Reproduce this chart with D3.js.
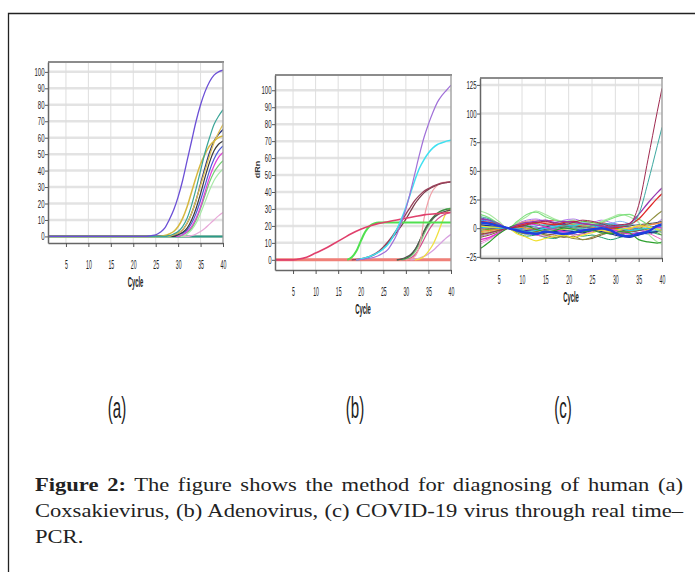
<!DOCTYPE html>
<html>
<head>
<meta charset="utf-8">
<script src="https://cdn.jsdelivr.net/npm/d3@7"></script>
<style>
  body { margin: 0; background: #fff; }
  svg { display: block; }
</style>
</head>
<body>
<svg id="fig" width="695" height="572"></svg>
<script>
// ---- data ----
const xTicks = [5, 10, 15, 20, 25, 30, 35, 40];
const yTicksAB = [0, 10, 20, 30, 40, 50, 60, 70, 80, 90, 100];
const yTicksC = [-25, 0, 25, 50, 75, 100, 125];
const panelLabels = ["(a)", "(b)", "(c)"];

// (a) Coxsakievirus, [cycle, value]
const seriesA = [
  { color: "#b8a85a", w: 1.5, pts: [[1, 0], [40, 0]] },
  { color: "#2a9a8a", w: 2, pts: [[1, 0], [40, 0]] },
  { color: "#e8a8d8", w: 1.2, pts: [[1, 0], [32, 0], [33, 0.5], [34, 1.5], [35, 3], [36, 5], [37, 7.5], [38, 10], [39, 12.5], [40, 14.5]] },
  { color: "#a8e8a8", w: 1.2, pts: [[1, 0], [31, 0], [32, 1.5], [33, 4], [34, 8], [35, 14], [36, 21], [37, 28], [38, 34], [39, 38], [40, 41]] },
  { color: "#70d070", w: 1.2, pts: [[1, 0], [30, 0], [31, 1], [32, 2.5], [33, 5], [34, 10], [35, 17], [36, 25], [37, 33], [38, 39], [39, 43], [40, 46]] },
  { color: "#e040d8", w: 1.2, pts: [[1, 0], [30, 0], [31, 1], [32, 3], [33, 6], [34, 11], [35, 18], [36, 27], [37, 36], [38, 43], [39, 48], [40, 51]] },
  { color: "#4a5ad8", w: 1.2, pts: [[1, 0], [29, 0], [30, 1], [31, 2], [32, 4], [33, 8], [34, 14], [35, 22], [36, 31], [37, 40], [38, 47], [39, 52], [40, 55]] },
  { color: "#3a3a3a", w: 1.2, pts: [[1, 0], [29, 0], [30, 1], [31, 2.5], [32, 5], [33, 10], [34, 17], [35, 26], [36, 36], [37, 45], [38, 52], [39, 56], [40, 58]] },
  { color: "#2b3580", w: 1.3, pts: [[1, 0], [28, 0], [29, 0.8], [30, 2], [31, 4], [32, 8], [33, 14], [34, 22], [35, 32], [36, 42], [37, 51], [38, 58], [39, 62], [40, 65]] },
  { color: "#e0c050", w: 1.3, pts: [[1, 0], [28, 0], [29, 1], [30, 2], [31, 4], [32, 8], [33, 14], [34, 22], [35, 31], [36, 40], [37, 49], [38, 57], [39, 63], [40, 68]] },
  { color: "#d6b840", w: 1.5, pts: [[1, 0], [26, 0], [27, 0.5], [28, 1.5], [29, 3], [30, 6], [31, 11], [32, 18], [33, 27], [34, 36], [35, 44], [36, 50], [37, 55], [38, 58], [39, 60], [40, 61]] },
  { color: "#3aa597", w: 1.2, pts: [[1, 0], [27, 0], [28, 0.5], [29, 1.5], [30, 3], [31, 6], [32, 11], [33, 19], [34, 29], [35, 40], [36, 51], [37, 60], [38, 68], [39, 73], [40, 77]] },
  { color: "#6b4fd6", w: 1.3, pts: [[1, 0], [23, 0], [24, 0.5], [25, 1], [26, 2.5], [27, 5], [28, 10], [29, 16], [30, 24], [31, 34], [32, 46], [33, 58], [34, 70], [35, 80], [36, 88], [37, 94], [38, 98], [39, 100], [40, 101]] }
];

// (b) Adenovirus
const seriesB = [
  { color: "#f08078", w: 3, pts: [[1, 0], [40, 0]] },
  { color: "#d8a0e0", w: 1.3, pts: [[31, 0], [32, 0.3], [33, 1], [34, 2], [35, 3.5], [36, 5.5], [37, 8], [38, 10.5], [39, 13], [40, 15]] },
  { color: "#f0e040", w: 1.3, pts: [[32, 0], [33, 0.5], [34, 2], [35, 5], [36, 9], [37, 15], [38, 22], [39, 28], [40, 30]] },
  { color: "#d05090", w: 1.2, pts: [[29, 0], [30, 0.3], [31, 1], [32, 3], [33, 7], [34, 12], [35, 17], [36, 21], [37, 24], [38, 26], [40, 28]] },
  { color: "#80d080", w: 1.2, pts: [[29, 0], [30, 0.5], [31, 2], [32, 4.5], [33, 9], [34, 15], [35, 20], [36, 24], [37, 27], [38, 29], [40, 30.5]] },
  { color: "#3a8a40", w: 1.2, pts: [[28, 0], [29.5, 0.5], [30.5, 1.5], [31.5, 4], [32.5, 8], [33.5, 14], [34.5, 19.5], [35.5, 23.5], [36.5, 26.5], [37.5, 28.5], [38.5, 29.5], [40, 30]] },
  { color: "#555555", w: 1.3, pts: [[28, 0], [29, 0.5], [30, 1.5], [31, 3], [32, 6], [33, 11], [34, 16.5], [35, 21], [36, 24.5], [37, 26.5], [38, 28], [39, 28.8], [40, 29.3]] },
  { color: "#f0a0a8", w: 1.2, pts: [[30, 0], [31, 0.5], [32, 2], [33, 8], [33.5, 15], [34, 24], [35, 35], [36, 41], [37, 44], [38, 45.5], [40, 46]] },
  { color: "#7a3a4a", w: 1.2, pts: [[19, 0], [21, 0.8], [23, 3], [25, 7], [27, 13], [29, 20], [30, 24], [31, 28.5], [32, 33], [33, 36.5], [34, 39.5], [35, 41.5], [36, 43], [38, 45], [40, 46]] },
  { color: "#98405a", w: 1.3, pts: [[18, 0], [20, 0.5], [22, 2], [24, 5], [26, 10.5], [28, 18], [29, 22.5], [30, 27], [31, 31], [32, 35], [33, 38], [34, 40.5], [35, 42], [36, 43.5], [37, 44.5], [38, 45.2], [39, 45.6], [40, 46]] },
  { color: "#50e050", w: 2, pts: [[17, 0], [18, 1.5], [19, 5], [20, 11], [21, 16.5], [22, 20], [23, 21.5], [24, 22], [40, 22]] },
  { color: "#e0406c", w: 1.6, pts: [[1, 0], [5, 0], [6, 0.3], [8, 1.5], [10, 4], [12, 6.5], [14, 9.5], [16, 12.5], [18, 15.5], [20, 18], [22, 20], [24, 21.5], [26, 22.5], [28, 23.5], [30, 24.5], [32, 25.5], [34, 26.5], [36, 27], [38, 27.5], [40, 28]] },
  { color: "#40e0f0", w: 1.5, pts: [[19, 0], [20, 0.5], [22, 2], [24, 4.5], [25, 6.5], [26, 9], [27, 13], [28, 18], [29, 24], [30, 31], [31, 39], [32, 47], [33, 54], [34, 59], [35, 63], [36, 66], [37, 68], [38, 69], [39, 70], [40, 70.5]] },
  { color: "#a070d8", w: 1.2, pts: [[19, 0], [21, 0.5], [23, 1.5], [25, 4], [26, 6], [27, 10], [28, 15], [29, 22], [30, 30], [31, 40], [32, 51], [33, 62], [34, 72], [35, 80], [36, 87], [37, 93], [38, 97], [39, 100], [40, 103]] }
];

// (c) COVID-19, values at these cycles
const cyclesC = [1, 3, 5, 7, 9, 11, 13, 15, 17, 19, 21, 23, 25, 27, 29, 31, 33, 35, 37, 39, 40];
const seriesC = [
  { color: "#90a0a0", w: 1, vals: [1, 2, 1, 0, 0, -1, 0, 1, 2, 1, 0, -1, 0, 2, 3, 1, 0, -1, 0, 1, 0] },
  { color: "#b070f0", w: 1, vals: [-7, -5, -2, 0, 4, 7, 8, 6, 5, 7, 8, 6, 5, 7, 5, 3, 1, 0, 2, 5, 8] },
  { color: "#70d0d0", w: 1, vals: [5, 4, 2, 0, 1, -1, -2, 0, -1, -3, -2, 0, 2, 1, -1, -3, -4, -2, -1, 1, 2] },
  { color: "#f04060", w: 1, vals: [0, -1, 0, 0, 2, 3, 4, 6, 7, 5, 3, 2, 4, 5, 3, 1, -1, -2, 0, 2, 3] },
  { color: "#20a070", w: 1, vals: [3, 2, 1, 0, -4, -7, -6, -8, -9, -6, -5, -7, -6, -8, -10, -8, -6, -4, -3, -5, -6] },
  { color: "#e0a0e0", w: 1, vals: [-14, -10, -5, 0, 2, 1, 0, -2, -1, 1, 3, 1, -1, -3, -2, 0, 1, -1, -2, -3, -4] },
  { color: "#4060c0", w: 1, vals: [9, 7, 3, 0, -3, -5, -3, -1, 1, 2, 0, -2, -3, -1, 1, 0, -2, -4, -5, -3, -2] },
  { color: "#c0c040", w: 1, vals: [-4, -3, -2, 0, 1, -1, -3, -4, -2, -1, 0, 1, 3, 2, 0, -2, -3, -2, -1, 0, 1] },
  { color: "#f09080", w: 1, vals: [-1, -2, -1, 0, 4, 6, 7, 5, 4, 3, 2, 1, 0, -2, -4, -3, -1, 1, 3, 4, 5] },
  { color: "#5020a0", w: 1.2, vals: [2, 3, 2, 0, -1, -2, -1, 1, 3, 4, 6, 5, 4, 3, 1, -1, -3, -2, 0, 2, 4] },
  { color: "#60b020", w: 1, vals: [-2, -1, -1, 0, 3, 5, 4, 2, 3, 5, 4, 6, 5, 3, 1, -1, -2, 0, -2, -4, -6] },
  { color: "#2090f0", w: 1, vals: [7, 6, 3, 0, -1, 1, 2, 3, 2, 1, 3, 2, 1, 3, 4, 2, 1, -1, -3, -2, -1] },
  { color: "#f060c0", w: 1, vals: [-12, -9, -4, 0, -2, -4, -6, -7, -5, -4, -6, -5, -3, -1, -2, -4, -3, -1, -4, -8, -10] },
  { color: "#505050", w: 1, vals: [1, 0, 0, 0, 1, 2, 1, -1, 0, 1, 2, 1, 0, -1, 0, 1, 2, 3, 4, 5, 6] },
  { color: "#a8e8a0", w: 1.2, vals: [15, 12, 6, 0, 5, 10, 15, 12, 8, 6, 7, 5, 4, 6, 9, 12, 10, 5, -5, -12, -14] },
  { color: "#80b8f0", w: 1, vals: [4, 3, 2, 0, 2, 3, 1, 0, 2, 3, 4, 5, 3, 2, 4, 6, 4, 2, 1, 0, 1] },
  { color: "#806030", w: 1, vals: [-8, -6, -3, 0, -2, -4, -3, -5, -6, -8, -7, -10, -9, -6, -4, -5, -3, -2, 0, 2, 3] },
  { color: "#f08828", w: 1, vals: [-3, -2, -1, 0, 1, 0, -1, -2, 0, 2, 3, 2, 1, -1, -2, -1, 0, 2, 3, 4, 5] },
  { color: "#1a2a8a", w: 1.2, vals: [3, 2, 1, 0, -2, -3, -5, -4, -3, -2, -3, -4, -2, -3, -5, -7, -8, -6, -4, -3, -2] },
  { color: "#80e080", w: 1.2, vals: [12, 9, 4, 0, 6, 12, 14, 10, 7, 5, 4, 3, 2, 5, 8, 11, 12, 8, 3, -2, -4] },
  { color: "#909040", w: 1.2, vals: [-6, -4, -2, 0, -3, -5, -4, -6, -8, -7, -9, -10, -8, -5, -4, -6, -3, -1, 5, 12, 15] },
  { color: "#20d0e8", w: 1.2, vals: [0, 1, 0, 0, -1, -3, -2, 0, 1, 3, 2, 4, 3, 1, 2, 0, -2, -1, 0, 1, 2] },
  { color: "#f0e030", w: 1.2, vals: [2, 1, 1, 0, -5, -8, -11, -9, -7, -6, -8, -6, -4, -2, -3, -1, 0, 2, 1, -1, -2] },
  { color: "#e030d0", w: 1.2, vals: [-10, -8, -4, 0, 2, 4, 3, 1, -1, -3, -4, -2, -1, 0, -1, -3, -5, -4, -2, 1, 0] },
  { color: "#2ea02e", w: 1.2, vals: [-18, -12, -5, 0, 3, 2, -1, -3, -2, 0, -1, -3, -2, -4, -5, -3, -4, -10, -12, -13, -12] },
  { color: "#e02828", w: 1.3, vals: [6, 5, 3, 0, 2, 4, 5, 4, 3, 5, 6, 4, 3, 2, 0, 1, 3, 8, 17, 26, 30] },
  { color: "#9838b0", w: 1.3, vals: [8, 7, 4, 0, 3, 5, 6, 7, 5, 6, 5, 4, 3, 2, 1, 2, 4, 12, 22, 31, 35] },
  { color: "#3ca8a0", w: 1, vals: [10, 8, 3, 0, -1, -3, -4, -2, 0, 2, 1, 0, 2, 4, 3, 2, 3, 12, 40, 72, 88] },
  { color: "#a02a50", w: 1, vals: [-5, -4, -2, 0, 1, 3, 5, 6, 4, 3, 5, 7, 6, 4, 2, 3, 4, 20, 60, 102, 122] },
  { color: "#1f3fe0", w: 2.4, vals: [5, 4, 2, 0, -2, -4, -5, -3, -4, -5, -4, -2, -1, 0, -2, -6, -7, -5, -3, 2, 3] }
];

const svg = d3.select("#fig");

// outer frame (left and top edges)
svg.append("path")
  .attr("d", "M8.5,572V13.5H695")
  .attr("fill", "none")
  .attr("stroke", "#222")
  .attr("stroke-width", 1.3);

const panels = [
  { left: 48, right: 223, top: 62, bottom: 243, yDomain: [-4, 106], yTicks: yTicksAB,
    lines: seriesA.map(s => ({ color: s.color, w: s.w, pts: s.pts })), label: null },
  { left: 275, right: 451, top: 75, bottom: 270, yDomain: [-6, 109], yTicks: yTicksAB,
    lines: seriesB.map(s => ({ color: s.color, w: s.w, pts: s.pts })), label: "dRn" },
  { left: 480, right: 662, top: 78, bottom: 258, yDomain: [-26, 131], yTicks: yTicksC,
    lines: seriesC.map(s => ({ color: s.color, w: s.w, pts: s.vals.map((v, i) => [cyclesC[i], v]) })), label: null }
];

panels.forEach((p, idx) => {
  const g = svg.append("g");
  const x = d3.scaleLinear().domain([1, 40]).range([p.left, p.right]);
  const y = d3.scaleLinear().domain(p.yDomain).range([p.bottom, p.top]);

  // horizontal grid
  g.selectAll(".hg").data(p.yTicks).enter().append("line")
    .attr("x1", p.left).attr("x2", p.right)
    .attr("y1", d => y(d)).attr("y2", d => y(d))
    .attr("stroke", "#e3e3e3").attr("stroke-width", 2.5);
  // vertical grid
  g.selectAll(".vg").data(xTicks).enter().append("line")
    .attr("x1", d => x(d)).attr("x2", d => x(d))
    .attr("y1", p.top).attr("y2", p.bottom)
    .attr("stroke", "#dedede").attr("stroke-width", 1);

  // clip
  const clipId = "clip" + idx;
  g.append("clipPath").attr("id", clipId).append("rect")
    .attr("x", p.left).attr("y", p.top)
    .attr("width", p.right - p.left).attr("height", p.bottom - p.top);

  const line = d3.line().x(d => x(d[0])).y(d => y(d[1])).curve(d3.curveMonotoneX);
  g.append("g").attr("clip-path", `url(#${clipId})`)
    .selectAll("path").data(p.lines).enter().append("path")
    .attr("d", d => line(d.pts))
    .attr("fill", "none")
    .attr("stroke", d => d.color)
    .attr("stroke-width", d => d.w);

  // borders: top and right
  g.append("line").attr("x1", p.left).attr("x2", p.right + 1)
    .attr("y1", p.top).attr("y2", p.top)
    .attr("stroke", "#8c8c8c").attr("stroke-width", 2);
  g.append("line").attr("x1", p.right).attr("x2", p.right)
    .attr("y1", p.top).attr("y2", p.bottom)
    .attr("stroke", "#9a9a9a").attr("stroke-width", 1.2);

  // x axis
  const xa = g.append("g")
    .attr("transform", `translate(0,${p.bottom})`)
    .call(d3.axisBottom(x).tickValues(xTicks).tickSize(4).tickPadding(13).tickSizeOuter(0));
  xa.select(".domain").attr("stroke", "#666").attr("stroke-width", 1.5);
  xa.selectAll(".tick line").attr("stroke", "#555");
  xa.selectAll("text")
    .attr("fill", "#222")
    .style("font-family", "Liberation Sans, Arial, sans-serif")
    .style("font-size", "13px")
    .attr("transform", "scale(0.4,1)");

  // y axis
  const ya = g.append("g")
    .attr("transform", `translate(${p.left},0)`)
    .call(d3.axisLeft(y).tickValues(p.yTicks).tickSize(3).tickSizeOuter(0));
  ya.select(".domain").attr("stroke", "#666").attr("stroke-width", 1.5);
  ya.selectAll(".tick line").attr("stroke", "#555");
  ya.selectAll("text")
    .attr("fill", "#222")
    .attr("x", -3.5 / 0.55)
    .style("font-family", "Liberation Sans, Arial, sans-serif")
    .style("font-size", "11px")
    .attr("transform", "scale(0.55,1)");

  // x title
  g.append("text")
    .attr("transform", `translate(${(p.left + p.right) / 2},${p.bottom + 44}) scale(0.42,1)`)
    .attr("text-anchor", "middle")
    .style("font-family", "Liberation Sans, Arial, sans-serif")
    .style("font-size", "14px")
    .style("font-weight", "bold")
    .attr("fill", "#222")
    .text("Cycle");

  if (p.label) {
    g.append("text")
      .attr("transform", `translate(${p.left - 15},${(p.top + p.bottom) / 2 - 3}) rotate(-90) scale(1,0.8)`)
      .attr("text-anchor", "middle")
      .style("font-family", "Liberation Sans, Arial, sans-serif")
      .style("font-size", "9px")
      .style("font-weight", "bold")
      .attr("fill", "#333")
      .text(p.label);
  }
});

// panel letters
const labelX = [117, 355, 563];
svg.selectAll(".plabel").data(panelLabels).enter().append("text")
  .attr("transform", (d, i) => `translate(${labelX[i]},418) scale(0.52,1)`)
  .attr("text-anchor", "middle")
  .style("font-family", "Liberation Sans, Arial, sans-serif")
  .style("font-size", "29px")
  .attr("fill", "#222")
  .text(d => d);

// caption, justified between 35 and 683 (widened serif)
const capLeft = 35, capRight = 683, capScale = 1.22;
const cap = [
  { bold: "Figure 2:", rest: " The figure shows the method for diagnosing of human (a)", y: 491, justify: true },
  { bold: "", rest: "Coxsakievirus, (b) Adenovirus, (c) COVID-19 virus through real time\u2013", y: 517, justify: true },
  { bold: "", rest: "PCR.", y: 543, justify: false }
];
cap.forEach(c => {
  const t = svg.append("text")
    .attr("transform", `translate(${capLeft},${c.y}) scale(${capScale},1)`)
    .style("font-family", "Liberation Serif, 'Times New Roman', serif")
    .style("font-size", "18.5px")
    .attr("fill", "#222");
  if (c.bold) t.append("tspan").style("font-weight", "bold").text(c.bold);
  t.append("tspan").text(c.rest);
  if (c.justify) {
    const len = t.node().getComputedTextLength();
    const spaces = (c.bold + c.rest).split(" ").length - 1;
    const avail = (capRight - capLeft) / capScale;
    t.style("word-spacing", Math.max(0, (avail - len) / spaces) + "px");
  }
});
</script>
</body>
</html>
